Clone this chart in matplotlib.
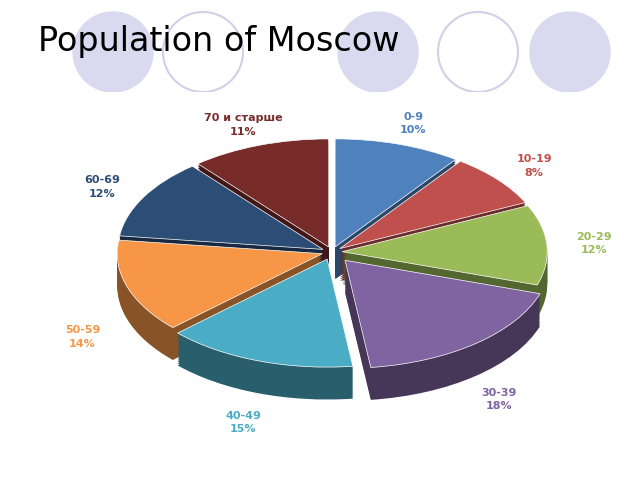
import numpy as np
import matplotlib.pyplot as plt
from matplotlib.patches import Circle, Rectangle
from matplotlib.colors import to_rgb

labels = ["0-9", "10-19", "20-29", "30-39", "40-49", "50-59", "60-69", "70 и старше"]
shares = [10, 8, 12, 18, 15, 14, 12, 11]
colors = ["#4F81BD", "#C0504D", "#9BBB59", "#8064A2", "#4BACC6", "#F79646", "#2C4D75", "#772C2A"]
explode = [0.05, 0.05, 0.05, 0.1, 0.07, 0.05, 0.05, 0.05]

CX, CY, RX, RY = 332, 252, 205, 108
DEPTH = 0.3


def darken(c, f):
    r, g, b = to_rgb(c)
    return (r * f, g * f, b * f)


fig = plt.figure(figsize=(6.4, 4.8), dpi=100)

# decorative circles at the top
bg = fig.add_axes([0, 0, 1, 1])
bg.set_xlim(0, 640)
bg.set_ylim(480, 0)
bg.axis('off')
for x, filled in [(113, True), (203, False), (378, True), (478, False), (570, True)]:
    if filled:
        bg.add_patch(Circle((x, 52), 40, facecolor="#D9D9F0", edgecolor="#D9D9F0"))
    else:
        bg.add_patch(Circle((x, 52), 40, facecolor="white", edgecolor="#D0D0E8", lw=1.5))
bg.add_patch(Rectangle((0, 92), 640, 400, facecolor="white", edgecolor="none"))
bg.text(38, 42, "Population of Moscow", fontsize=24, va='center', ha='left', color='black')

ax = fig.add_axes([0, 0, 1, 1])
ax.patch.set_alpha(0)

# extruded sides
for d in np.linspace(DEPTH, 0.01, 18):
    ax.pie(shares, colors=[darken(c, 0.55) for c in colors], explode=explode,
           startangle=90, counterclock=False, center=(0, -d), radius=1,
           wedgeprops=dict(linewidth=0))
ax.pie(shares, colors=colors, explode=explode, startangle=90, counterclock=False,
       center=(0, 0), radius=1, wedgeprops=dict(linewidth=0.5, edgecolor='white'))

ax.set_aspect('auto')
ax.set_xlim(-CX / RX, (640 - CX) / RX)
ax.set_ylim(-(480 - CY) / RY, CY / RY)
ax.axis('off')

cum = 0
for lab, val, col in zip(labels, shares, colors):
    mid = np.radians(90 - (cum + val / 2) * 3.6)
    cum += val
    x = 1.28 * np.cos(mid)
    y = 1.25 * np.sin(mid)
    if y < 0:
        y -= DEPTH + 0.1
    ax.text(x, y, f"{lab}\n{val}%", color=col, fontsize=8, fontweight='bold',
            ha='center', va='center', linespacing=1.4)

fig.savefig("out.png", dpi=100)
